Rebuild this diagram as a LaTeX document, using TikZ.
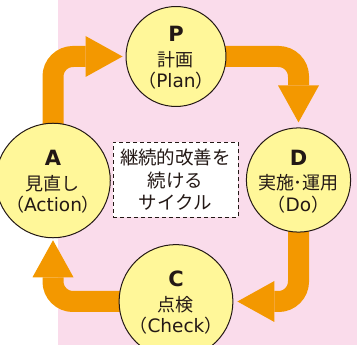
\documentclass[tikz,border=0pt]{standalone}
\usepackage{fontspec}
\setmainfont{Noto Sans CJK JP}
\newfontfamily\latfont{DejaVu Sans}
\usetikzlibrary{arrows.meta}
\definecolor{pinkbg}{HTML}{FADCEB}
\definecolor{orng}{HTML}{F39800}
\definecolor{yel}{HTML}{FFF799}
\definecolor{inkc}{HTML}{231815}
\pgfdeclarelayer{bg}
\pgfdeclarelayer{arr}
\pgfsetlayers{bg,arr,main}
\newcommand{\stagehead}[1]{\rule{0pt}{18pt}{\latfont\fontsize{21}{22}\selectfont\bfseries #1}}
\newcommand{\lat}[1]{{\latfont\fontsize{18.5}{21.5}\selectfont #1}}
\begin{document}
\begin{tikzpicture}[x=1pt,y=-1pt,
  stage/.style={circle,draw=inkc,line width=1pt,fill=yel,minimum size=97pt,inner sep=0pt,
    align=center,text=inkc,font=\fontsize{18}{21.5}\selectfont},
  cyc/.style={draw=orng,line width=21pt,rounded corners=20pt,
    -{Triangle[width=41pt,length=37pt,line width=0pt]}},
  notebox/.style={draw=inkc,line width=1pt,dash pattern=on 4pt off 3pt,fill=white,
    minimum width=125pt,minimum height=75pt,inner sep=0pt,align=center,text=inkc,
    font=\fontsize{18.5}{22.5}\selectfont}
]
\useasboundingbox (0,0) rectangle (357,345);
\begin{pgfonlayer}{bg}
  \fill[pinkbg] (58,0) rectangle (357,345);
\end{pgfonlayer}
\node[stage] (P) at (176,56.5) {\stagehead{P}\\[3pt]計画\\（\lat{Plan}）};
\node[stage] (D) at (298.5,180) {\stagehead{D}\\[3pt]実施･運用\\（\lat{Do}）};
\node[stage] (C) at (176,301.5) {\stagehead{C}\\[3pt]点検\\（\lat{Check}）};
\node[stage] (A) at (53,180.5) {\stagehead{A}\\[3pt]見直し\\（\lat{Action}）};
\node[notebox] (K) at (175.5,180) {継続的改善を\\続ける\\サイクル};
\begin{pgfonlayer}{arr}
  \draw[cyc] (A.center) |- ([xshift=-3pt]P.west);
  \draw[cyc] (P.center) -| ([yshift=5pt]D.north);
  \draw[cyc] (D.center) |- ([xshift=4pt]C.east);
  \draw[cyc] (C.center) -| ([yshift=-2pt]A.south);
\end{pgfonlayer}
\end{tikzpicture}
\end{document}
